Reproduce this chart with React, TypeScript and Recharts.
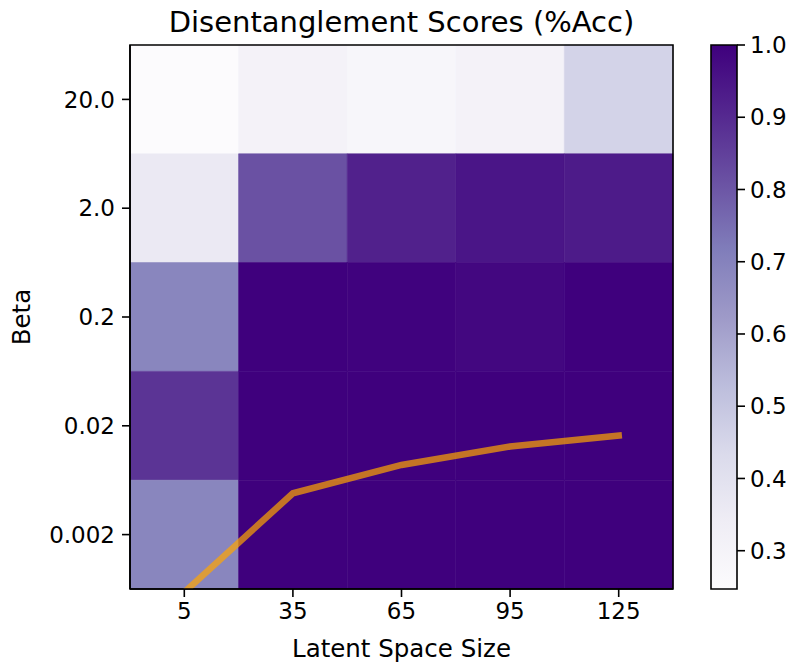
import {
  ComposedChart,
  XAxis,
  YAxis,
  Line,
  ReferenceArea,
} from 'recharts';

// x categories (columns) and y categories (rows, top to bottom)
const latentSizes = ['5', '35', '65', '95', '125'];
const betas = ['20.0', '2.0', '0.2', '0.02', '0.002'];

// accuracy per cell, one array per beta row
const scoresBeta20 = [0.247, 0.305, 0.283, 0.305, 0.457];
const scoresBeta2 = [0.359, 0.812, 0.921, 0.95, 0.936];
const scoresBeta02 = [0.69, 1.0, 0.995, 0.982, 1.0];
const scoresBeta002 = [0.877, 1.0, 1.0, 1.0, 1.0];
const scoresBeta0002 = [0.69, 1.0, 1.0, 1.0, 1.0];
const scoreRows = [scoresBeta20, scoresBeta2, scoresBeta02, scoresBeta002, scoresBeta0002];

// overlay trend, in row units of the heatmap
const trendValues = [4.53, 3.62, 3.36, 3.19, 3.09];

const colorbarTicks = [0.3, 0.4, 0.5, 0.6, 0.7, 0.8, 0.9, 1.0];

const vmin = 0.247;
const vmax = 1.0;

// matplotlib "Purples"
const purplesStops = [
  '#fcfbfd', '#efedf5', '#dadaeb', '#bcbddc', '#9e9ac8',
  '#807dba', '#6a51a3', '#54278f', '#3f007d',
];

function hexToRgb(h: string) {
  return [1, 3, 5].map((i) => parseInt(h.slice(i, i + 2), 16));
}

function purples(v: number) {
  const t = Math.min(1, Math.max(0, (v - vmin) / (vmax - vmin)));
  const pos = t * (purplesStops.length - 1);
  const i = Math.min(purplesStops.length - 2, Math.floor(pos));
  const f = pos - i;
  const a = hexToRgb(purplesStops[i]);
  const b = hexToRgb(purplesStops[i + 1]);
  const c = a.map((x, k) => Math.round(x + (b[k] - x) * f));
  return `rgb(${c[0]},${c[1]},${c[2]})`;
}

const trendData = latentSizes.map((_, i) => ({ idx: i, trend: trendValues[i] }));

const FONT = '"DejaVu Sans", sans-serif';
const TEXT = '#000';

export default function App() {
  return (
    <div
      style={{
        position: 'absolute',
        left: 0,
        top: 0,
        width: 794,
        height: 663,
        background: '#fff',
        fontFamily: FONT,
      }}
    >
      <div style={{ position: 'absolute', left: 0, top: 0 }}>
        <ComposedChart
          width={794}
          height={663}
          data={trendData}
          margin={{ top: 45, right: 121, bottom: 34, left: 10 }}
        >
          <XAxis
            dataKey="idx"
            type="number"
            domain={[-0.5, 4.5]}
            ticks={[0, 1, 2, 3, 4]}
            tickFormatter={(i: number) => latentSizes[i]}
            height={40}
            tick={{ fontSize: 23, fill: TEXT, fontFamily: FONT }}
            tickSize={8}
            tickMargin={6}
            axisLine={{ stroke: '#000', strokeWidth: 1.6 }}
            tickLine={{ stroke: '#000', strokeWidth: 1.6 }}
            allowDataOverflow
          />
          <YAxis
            type="number"
            domain={[-0.5, 4.5]}
            reversed
            ticks={[0, 1, 2, 3, 4]}
            tickFormatter={(i: number) => betas[i]}
            width={120}
            tick={{ fontSize: 23, fill: TEXT, fontFamily: FONT }}
            tickSize={8}
            tickMargin={7}
            axisLine={{ stroke: '#000', strokeWidth: 1.6 }}
            tickLine={{ stroke: '#000', strokeWidth: 1.6 }}
            allowDataOverflow
          />
          {scoreRows.map((row, r) =>
            row.map((v, c) => (
              <ReferenceArea
                key={`${r}-${c}`}
                x1={c - 0.5}
                x2={c + 0.5}
                y1={r - 0.5}
                y2={r + 0.5}
                fill={purples(v)}
                fillOpacity={1}
                stroke={purples(v)}
                strokeWidth={0.6}
                ifOverflow="visible"
              />
            ))
          )}
          <Line
            dataKey="trend"
            type="linear"
            stroke="#ffa500"
            strokeOpacity={0.7}
            strokeWidth={6.5}
            strokeLinecap="square"
            dot={false}
            activeDot={false}
            isAnimationActive={false}
          />
          <ReferenceArea
            x1={-0.5}
            x2={4.5}
            y1={-0.5}
            y2={4.5}
            fill="none"
            fillOpacity={0}
            stroke="#000"
            strokeWidth={1.6}
            ifOverflow="visible"
          />
        </ComposedChart>
      </div>

      {/* colorbar */}
      <div style={{ position: 'absolute', left: 700, top: 0 }}>
        <ComposedChart
          width={94}
          height={663}
          data={[{ x: 0 }, { x: 1 }]}
          margin={{ top: 45, right: 0, bottom: 74, left: 11 }}
        >
          <defs>
            <linearGradient id="purplesGrad" x1="0" y1="1" x2="0" y2="0">
              {purplesStops.map((col, i) => (
                <stop
                  key={col}
                  offset={`${(i / (purplesStops.length - 1)) * 100}%`}
                  stopColor={col}
                />
              ))}
            </linearGradient>
          </defs>
          <XAxis dataKey="x" type="number" domain={[0, 1]} hide />
          <YAxis
            type="number"
            orientation="right"
            domain={[vmin, vmax]}
            ticks={colorbarTicks}
            tickFormatter={(v: number) => v.toFixed(1)}
            width={57}
            tick={{ fontSize: 23, fill: TEXT, fontFamily: FONT }}
            tickSize={8}
            tickMargin={5}
            axisLine={false}
            tickLine={{ stroke: '#000', strokeWidth: 1.6 }}
            allowDataOverflow
          />
          <ReferenceArea
            x1={0}
            x2={1}
            y1={vmin}
            y2={vmax}
            fill="url(#purplesGrad)"
            fillOpacity={1}
            stroke="#000"
            strokeWidth={1.6}
            ifOverflow="visible"
          />
        </ComposedChart>
      </div>

      {/* titles */}
      <svg
        width={794}
        height={663}
        style={{ position: 'absolute', left: 0, top: 0, pointerEvents: 'none' }}
      >
        <text
          x={401.5}
          y={32}
          textAnchor="middle"
          fontSize={29}
          fontFamily={FONT}
          fill={TEXT}
        >
          Disentanglement Scores (%Acc)
        </text>
        <text
          x={401.5}
          y={657}
          textAnchor="middle"
          fontSize={24.5}
          fontFamily={FONT}
          fill={TEXT}
        >
          Latent Space Size
        </text>
        <text
          x={30}
          y={317}
          textAnchor="middle"
          fontSize={24.5}
          fontFamily={FONT}
          fill={TEXT}
          transform="rotate(-90 30 317)"
        >
          Beta
        </text>
      </svg>
    </div>
  );
}
